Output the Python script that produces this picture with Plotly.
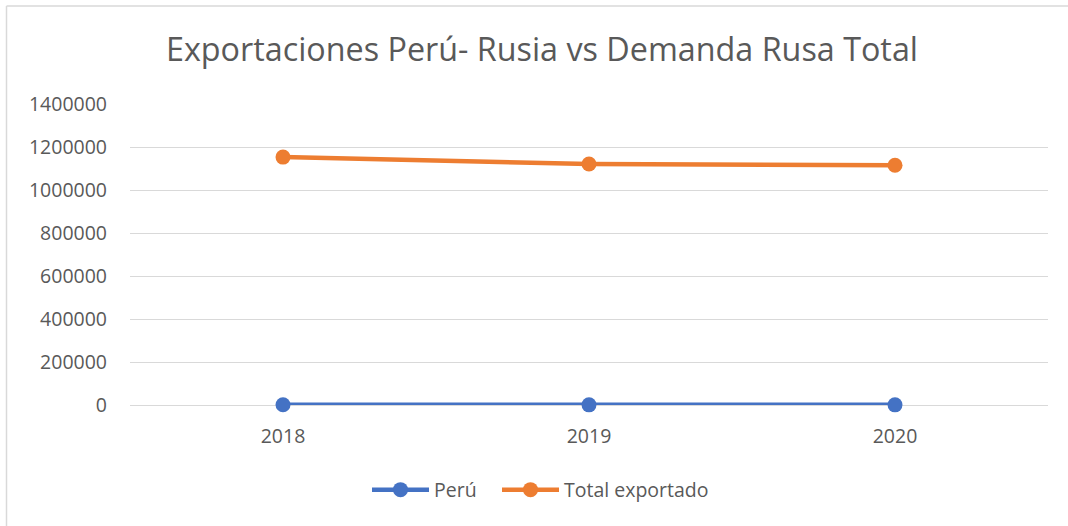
import plotly.graph_objects as go

years = ["2018", "2019", "2020"]
peru = [900, 700, 600]
total_exportado = [1153000, 1121000, 1115000]
y_ticks = [0, 200000, 400000, 600000, 800000, 1000000, 1200000, 1400000]

title_text = "Exportaciones Perú- Rusia vs Demanda Rusa Total"
FONT = "Open Sans"
GRAY = "#595959"

fig = go.Figure()
fig.add_trace(go.Scatter(
    x=years, y=peru, name="Perú", mode="lines+markers",
    line=dict(color="#4472C4", width=4.5),
    marker=dict(size=15, color="#4472C4"), legend="legend", cliponaxis=False,
))
fig.add_trace(go.Scatter(
    x=years, y=total_exportado, name="Total exportado", mode="lines+markers",
    line=dict(color="#ED7D31", width=4.5),
    marker=dict(size=15, color="#ED7D31"), legend="legend2", cliponaxis=False,
))

L, R, T, B = 130, 20, 104, 121
W, H = 1068, 526
pw, ph = W - L - R, H - T - B

def px(x):
    return (x - L) / pw

def py(y):
    return (H - B - y) / ph

leg_common = dict(orientation="h", xanchor="left", y=py(490), yanchor="middle",
                  font=dict(size=19.5, color=GRAY), itemwidth=57,
                  bgcolor="rgba(0,0,0,0)")

fig.update_layout(
    width=W, height=H,
    margin=dict(l=L, r=R, t=T, b=B, pad=0),
    paper_bgcolor="white", plot_bgcolor="white",
    font=dict(family=FONT, color=GRAY, size=19.5),
    title=dict(text=title_text, x=542 / W, xanchor="center", y=1 - 50 / H, yanchor="middle",
               font=dict(family=FONT, size=32.3, color=GRAY)),
    xaxis=dict(type="category", showgrid=False, showline=False, zeroline=False,
               ticks="", ticklabelstandoff=17, tickfont=dict(size=19.5, color=GRAY),
               range=[-0.5, 2.5]),
    yaxis=dict(range=[0, 1400000], tickvals=y_ticks, ticktext=[str(v) for v in y_ticks],
               showgrid=True, gridcolor="#D9D9D9", gridwidth=1, zeroline=True,
               zerolinecolor="#D9D9D9", zerolinewidth=1, showline=False, ticks="",
               ticklabelstandoff=22, tickfont=dict(size=19.5, color=GRAY)),
    legend=dict(x=px(367), **leg_common),
    legend2=dict(x=px(497), **leg_common),
    showlegend=True,
    shapes=[
        dict(type="line", xref="paper", yref="paper", x0=px(6.5), x1=px(6.5),
             y0=py(6), y1=py(H), line=dict(color="#D9D9D9", width=1.5)),
        dict(type="line", xref="paper", yref="paper", x0=px(6.5), x1=px(W),
             y0=py(6), y1=py(6), line=dict(color="#D9D9D9", width=1.5)),
    ],
)

fig.write_html("out.html", config={"displayModeBar": False},
               post_script="document.body.style.margin='0';")
